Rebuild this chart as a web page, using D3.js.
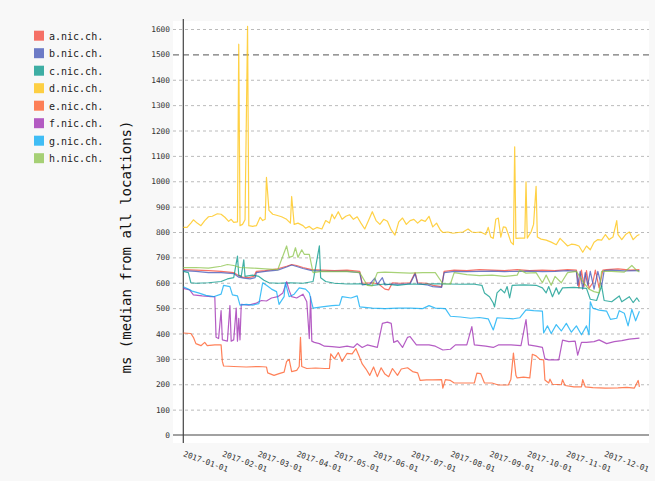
<!DOCTYPE html>
<html><head><meta charset="utf-8">
<script src="https://cdn.jsdelivr.net/npm/d3@7"></script>
<style>
html,body{margin:0;padding:0;background:#f8f8f8;}
svg{display:block;}
text{font-family:"DejaVu Sans Mono","Liberation Mono",monospace;}
</style></head>
<body>
<svg id="chart" width="655" height="481"></svg>
<script>
// ---- data ----
const seriesNames = ["a.nic.ch.","b.nic.ch.","c.nic.ch.","d.nic.ch.","e.nic.ch.","f.nic.ch.","g.nic.ch.","h.nic.ch."];
const seriesColors = ["#F44336","#3F51B5","#009688","#FFC107","#FF5722","#9C27B0","#03A9F4","#8BC34A"];
const monthLabels = ["2017-01-01","2017-02-01","2017-03-01","2017-04-01","2017-05-01","2017-06-01","2017-07-01","2017-08-01","2017-09-01","2017-10-01","2017-11-01","2017-12-01"];
const yTicks = [0,100,200,300,400,500,600,700,800,900,1000,1100,1200,1300,1400,1500,1600];
// [day offset from 2017-01-01, ms]
const aData = [[0,652],[10,650],[20,648],[30,645],[40,640],[44,628],[47,622],[52,620],[56,625],[58,645],[65,648],[75,655],[82,665],[86,672],[90,668],[95,660],[102,652],[110,650],[120,648],[130,650],[140,645],[142,598],[150,600],[155,595],[160,575],[163,572],[166,600],[172,598],[180,600],[184,640],[186,600],[193,598],[198,590],[205,585],[207,645],[215,650],[225,648],[235,652],[245,650],[255,648],[265,652],[275,648],[285,650],[295,648],[305,652],[312,650],[314,580],[316,650],[318,585],[320,648],[322,578],[325,600],[327,650],[330,580],[333,650],[336,652],[345,655],[355,650],[362,652]];
const bData = [[0,648],[10,645],[20,640],[30,640],[40,636],[44,622],[48,618],[53,615],[57,620],[58,640],[65,645],[75,650],[82,662],[86,670],[90,664],[95,656],[102,648],[110,646],[120,645],[130,645],[140,640],[142,592],[148,595],[152,618],[154,594],[158,620],[160,592],[166,595],[172,594],[180,596],[184,636],[186,596],[193,592],[198,585],[205,582],[207,640],[215,645],[225,644],[235,645],[245,646],[255,644],[265,645],[275,646],[285,644],[295,645],[305,648],[312,645],[313,590],[315,645],[317,575],[319,640],[321,590],[323,645],[326,575],[329,645],[332,585],[334,648],[340,650],[350,647],[362,648]];
const cData = [[0,645],[4,640],[6,600],[10,598],[20,600],[30,605],[35,615],[40,620],[43,705],[44,630],[46,625],[48,690],[49,625],[55,630],[60,625],[64,610],[68,600],[75,598],[85,600],[95,598],[103,605],[108,745],[109,620],[113,605],[120,598],[130,595],[140,596],[150,590],[160,595],[170,590],[180,595],[190,594],[200,596],[210,595],[220,594],[230,595],[237,590],[239,560],[243,545],[246,520],[247,505],[249,560],[252,575],[255,560],[257,585],[259,540],[261,590],[270,592],[280,590],[285,580],[288,560],[290,585],[293,545],[296,580],[298,555],[301,580],[310,582],[320,578],[323,535],[328,530],[332,588],[334,530],[340,525],[346,548],[348,525],[354,545],[357,522],[360,540],[362,525]];
const dData = [[0,818],[3,818],[6,835],[8,848],[11,835],[14,825],[17,845],[20,860],[23,862],[27,872],[30,870],[33,858],[36,842],[38,850],[40,838],[43,840],[44,1540],[45,825],[47,830],[49,848],[51,1610],[52,825],[55,822],[58,825],[61,858],[63,845],[65,850],[66,1015],[68,885],[71,870],[74,866],[78,860],[82,850],[85,835],[86,940],[88,830],[91,835],[95,825],[97,815],[100,822],[103,810],[106,818],[110,812],[113,845],[116,835],[118,870],[120,852],[123,880],[126,850],[129,862],[132,868],[135,850],[138,860],[141,835],[144,812],[147,845],[150,880],[153,845],[156,830],[159,850],[162,842],[165,808],[168,788],[171,840],[174,855],[177,830],[180,845],[183,850],[186,835],[189,848],[192,842],[195,862],[198,820],[201,835],[204,808],[206,798],[210,800],[214,795],[218,798],[222,800],[226,812],[229,800],[232,798],[236,800],[240,790],[242,818],[244,780],[246,775],[248,850],[250,855],[252,780],[254,820],[256,818],[258,790],[260,760],[262,750],[263,1136],[264,775],[267,776],[271,776],[272,998],[273,776],[276,800],[278,830],[280,980],[281,780],[284,772],[288,768],[292,760],[296,750],[299,775],[302,760],[305,745],[308,752],[311,750],[314,745],[317,720],[320,745],[323,730],[326,760],[329,770],[332,768],[335,790],[338,770],[341,780],[344,845],[345,790],[348,770],[351,790],[354,800],[357,770],[360,785],[362,790]];
const eData = [[0,402],[6,400],[8,385],[10,360],[14,352],[17,365],[19,352],[25,355],[30,355],[31,290],[32,272],[40,270],[50,268],[60,270],[66,268],[67,245],[72,235],[76,242],[80,248],[82,290],[84,298],[86,250],[90,255],[92,270],[93,385],[94,270],[98,262],[105,264],[112,262],[116,262],[117,320],[120,300],[123,325],[126,290],[130,322],[134,320],[137,340],[140,305],[142,280],[145,260],[148,235],[151,268],[154,230],[157,265],[160,240],[163,230],[166,262],[170,235],[173,260],[178,265],[182,250],[186,245],[188,215],[193,217],[198,217],[205,218],[206,185],[208,218],[212,215],[215,205],[225,205],[231,205],[233,244],[236,242],[239,205],[245,205],[250,197],[258,197],[260,220],[262,323],[264,235],[265,225],[270,228],[275,225],[277,318],[280,312],[283,298],[286,296],[287,217],[290,205],[291,220],[293,200],[300,198],[301,218],[303,195],[310,190],[316,190],[317,218],[319,190],[325,187],[335,185],[345,186],[352,188],[358,185],[361,215],[362,190]];
const fData = [[0,578],[5,572],[8,552],[15,548],[22,545],[25,545],[26,385],[28,380],[30,490],[31,375],[35,370],[37,510],[38,370],[40,375],[42,500],[43,370],[44,460],[45,375],[46,515],[52,512],[58,520],[62,530],[66,528],[70,540],[75,545],[79,560],[82,604],[84,570],[86,545],[90,540],[95,555],[98,525],[100,380],[101,545],[102,370],[104,365],[108,360],[112,350],[118,348],[124,345],[130,350],[135,345],[138,360],[142,345],[146,355],[150,350],[154,345],[158,440],[162,445],[165,440],[167,365],[170,372],[174,345],[178,385],[180,388],[185,355],[195,355],[200,350],[206,335],[212,338],[216,355],[225,355],[229,427],[231,355],[240,350],[246,345],[250,355],[260,355],[268,352],[272,455],[274,355],[280,350],[285,345],[287,300],[290,296],[298,296],[301,374],[306,368],[311,370],[313,315],[316,365],[320,365],[326,368],[330,375],[336,360],[342,368],[348,372],[354,378],[362,382]];
const gData = [[0,584],[4,575],[7,567],[12,560],[18,550],[24,545],[30,555],[32,590],[37,585],[39,552],[43,548],[45,512],[50,515],[55,512],[60,518],[63,600],[66,590],[70,575],[74,565],[76,515],[80,545],[81,600],[84,545],[88,555],[92,580],[97,575],[100,560],[103,500],[110,505],[118,510],[124,512],[126,545],[133,540],[138,548],[140,505],[150,500],[160,498],[170,500],[180,500],[190,498],[195,510],[200,500],[208,498],[212,468],[220,465],[228,460],[235,463],[242,458],[246,414],[249,462],[255,460],[262,458],[267,462],[272,493],[278,490],[285,488],[286,402],[289,430],[292,400],[296,435],[300,410],[304,440],[308,405],[312,430],[316,395],[320,430],[322,395],[323,525],[325,500],[330,492],[336,488],[339,456],[344,460],[346,490],[350,480],[353,430],[356,495],[359,450],[362,488]];
const hData = [[0,660],[10,660],[20,658],[30,665],[35,672],[40,668],[45,660],[55,658],[65,655],[75,652],[82,745],[84,700],[87,705],[89,738],[91,700],[94,730],[96,712],[100,712],[103,640],[110,645],[120,644],[130,645],[140,640],[146,590],[150,588],[154,640],[160,642],[170,640],[180,638],[190,640],[200,640],[206,596],[212,595],[215,640],[225,632],[235,628],[245,630],[255,625],[265,630],[267,650],[272,638],[280,640],[285,600],[288,630],[292,590],[295,625],[300,600],[305,640],[312,645],[318,598],[322,575],[326,565],[330,560],[332,645],[340,645],[350,642],[356,668],[360,648],[362,642]];
const allSeries = [aData,bData,cData,dData,eData,fData,gData,hData];

// ---- chart ----
const svg = d3.select("#chart");
const parse = d3.timeParse("%Y-%m-%d");
const start = parse("2017-01-01");
const plotL = 173, plotR = 649, plotT = 21, plotB = 443;
const x = d3.scaleTime().domain([start, d3.timeDay.offset(start, 370)]).range([183.3, 649.5]);
const y = d3.scaleLinear().domain([0, 1600]).range([435, 29]);

svg.append("rect").attr("x", plotL).attr("y", plotT).attr("width", plotR - plotL).attr("height", plotB - plotT).attr("fill", "#ffffff");

// y guides + labels
const yAxis = svg.append("g").attr("transform", `translate(${plotL},0)`)
  .call(d3.axisLeft(y).tickValues(yTicks).tickSizeInner(-(plotR - plotL)).tickSizeOuter(0).tickPadding(3).tickFormat(d3.format("d")));
yAxis.select(".domain").remove();
yAxis.selectAll(".tick line")
  .attr("stroke", d => d === 1500 ? "#777" : "#bbb")
  .attr("stroke-width", d => d === 1500 ? 1.3 : 1)
  .attr("stroke-dasharray", d => d === 1500 ? "6,4" : "3,3")
  .style("display", d => d === 0 ? "none" : null);
yAxis.selectAll(".tick text").attr("font-size", 7.8).attr("fill", "#333").attr("font-family", "DejaVu Sans Mono");

// x axis
const xAxis = svg.append("g").attr("transform", "translate(0,435)")
  .call(d3.axisBottom(x).tickValues(monthLabels.map(parse)).tickSize(0).tickFormat(d3.timeFormat("%Y-%m-%d")));
xAxis.select(".domain").remove();
xAxis.selectAll(".tick text")
  .attr("x", 0).attr("y", 0).attr("dy", 0)
  .attr("text-anchor", "start")
  .attr("transform", "translate(-1,21) rotate(20)")
  .attr("font-size", 7.8).attr("fill", "#333").attr("font-family", "DejaVu Sans Mono");

// axis lines
svg.append("line").attr("x1", plotL).attr("x2", plotR).attr("y1", 435).attr("y2", 435).attr("stroke", "#444").attr("stroke-width", 1.2);
svg.append("line").attr("x1", 183.3).attr("x2", 183.3).attr("y1", 19).attr("y2", plotB).attr("stroke", "#444").attr("stroke-width", 1.2);

// series lines
const line = d3.line().x(d => x(d3.timeDay.offset(start, d[0]))).y(d => y(d[1]));
svg.append("g").selectAll("path").data(allSeries).join("path")
  .attr("d", line).attr("fill", "none")
  .attr("stroke", (d, i) => seriesColors[i]).attr("stroke-opacity", 0.75).attr("stroke-width", 1.2)
  .attr("stroke-linejoin", "round");

// y title
svg.append("text").attr("transform", "translate(131,247) rotate(-90)").attr("text-anchor", "middle")
  .attr("font-size", 14).attr("fill", "#111").text("ms (median from all locations)");

// legend
const leg = svg.append("g").selectAll("g").data(seriesNames).join("g")
  .attr("transform", (d, i) => `translate(34,${30.7 + i * 17.5})`);
leg.append("rect").attr("width", 10).attr("height", 10).attr("fill", (d, i) => seriesColors[i]).attr("fill-opacity", 0.75);
leg.append("text").attr("x", 15).attr("y", 9).attr("font-size", 10).attr("fill", "#222").text(d => d);
</script>
</body></html>
